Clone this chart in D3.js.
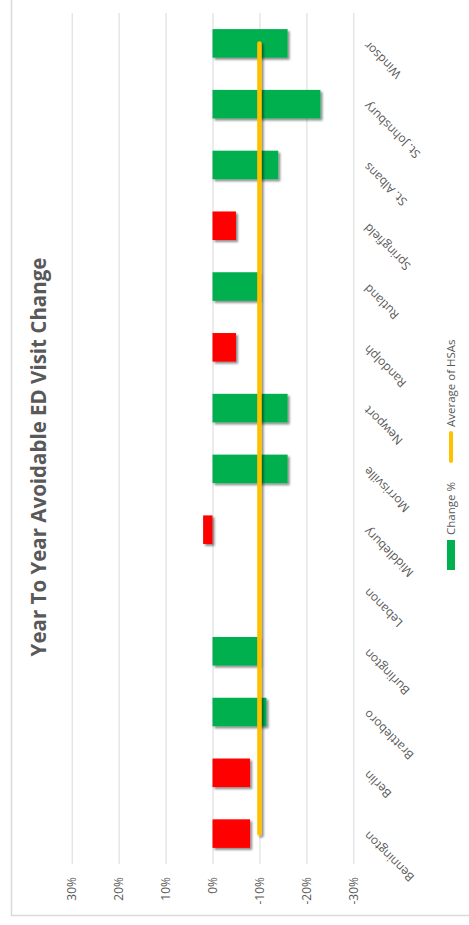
<!DOCTYPE html>
<html>
<head>
<meta charset="utf-8">
<script src="https://cdn.jsdelivr.net/npm/d3@7"></script>
<style>
  html, body { margin: 0; padding: 0; background: #fff; }
  svg { display: block; font-family: "Open Sans", "Noto Sans", sans-serif; }
</style>
</head>
<body>
<svg id="chart" width="469" height="925"></svg>
<script>
// Hospital service areas, alphabetical
const categories = ["Bennington", "Berlin", "Brattleboro", "Burlington", "Lebanon", "Middlebury",
  "Morrisville", "Newport", "Randolph", "Rutland", "Springfield", "St. Albans", "St. Johnsbury", "Windsor"];
// Year-to-year change in avoidable ED visits (null = no value reported)
const changePct = [-0.08, -0.08, -0.115, -0.10, null, 0.02,
  -0.16, -0.16, -0.05, -0.10, -0.05, -0.14, -0.23, -0.16];
// Average across all HSAs
const averagePct = -0.10;
const tickValues = [0.3, 0.2, 0.1, 0, -0.1, -0.2, -0.3];
const seriesNames = ["Change %", "Average of HSAs"];

const GREEN = "#00B050", RED = "#FF0000", GOLD = "#FFC000";
const GRID = "#D9D9D9", TEXT = "#595959";

const svg = d3.select("#chart");
const W = +svg.attr("width"), H = +svg.attr("height");

// soft drop shadow, defined in page coordinates so thin marks keep it too
const defs = svg.append("defs");
defs.append("filter").attr("id", "shadow")
  .attr("filterUnits", "userSpaceOnUse")
  .attr("x", 0).attr("y", 0).attr("width", W).attr("height", H)
  .append("feDropShadow")
  .attr("dx", 2).attr("dy", 2).attr("stdDeviation", 1.3)
  .attr("flood-color", "#000").attr("flood-opacity", 0.45);

// outer chart frame
svg.append("rect")
  .attr("x", 11.5).attr("y", -5).attr("width", 470).attr("height", 920.5)
  .attr("fill", "none").attr("stroke", GRID).attr("stroke-width", 1.5);

// The chart is laid out turned on its side: values run along x, categories along y
const plotTop = 13, plotBottom = 864;
const x = d3.scaleLinear().domain([0.3, -0.3]).range([71.7, 353.3]);
const y = d3.scaleBand()
  .domain(categories.slice().reverse())
  .range([plotTop, plotBottom])
  .paddingInner(0.53)
  .paddingOuter(0.265);

const fmt = v => (Math.round(v * 100)) + "%";

// gridlines + tick labels
const axis = d3.axisBottom(x)
  .tickValues(tickValues)
  .tickFormat(fmt)
  .tickSize(-(plotBottom - plotTop))
  .tickPadding(0);
const gAxis = svg.append("g")
  .attr("transform", `translate(0,${plotBottom})`)
  .call(axis);
gAxis.attr("font-family", null).attr("font-size", null);
gAxis.select(".domain").remove();
gAxis.selectAll(".tick line").attr("stroke", GRID).attr("stroke-width", 1);
gAxis.selectAll(".tick text")
  .attr("fill", TEXT)
  .attr("font-size", 12)
  .attr("text-anchor", "end")
  .attr("transform", "translate(0,13) rotate(-90)")
  .attr("x", 0).attr("y", 0).attr("dy", "0.35em");

// bars
const rows = categories.map((c, i) => ({ c, v: changePct[i] })).filter(d => d.v !== null);
svg.append("g").attr("filter", "url(#shadow)")
  .selectAll("rect").data(rows).join("rect")
  .attr("x", d => Math.min(x(0), x(d.v)))
  .attr("width", d => Math.abs(x(d.v) - x(0)))
  .attr("y", d => y(d.c))
  .attr("height", y.bandwidth())
  .attr("fill", d => d.v <= averagePct ? GREEN : RED);

// average line across the categories
const firstCat = categories[categories.length - 1], lastCat = categories[0];
svg.append("line")
  .attr("x1", x(averagePct)).attr("x2", x(averagePct))
  .attr("y1", y(firstCat) + y.bandwidth() / 2)
  .attr("y2", y(lastCat) + y.bandwidth() / 2)
  .attr("stroke", GOLD).attr("stroke-width", 4.5).attr("stroke-linecap", "round")
  .attr("filter", "url(#shadow)");

// category labels
svg.append("g").selectAll("text").data(categories).join("text")
  .attr("transform", d => `translate(366,${y(d) + y.bandwidth() / 2}) rotate(-135)`)
  .attr("text-anchor", "end")
  .attr("dy", "0.35em")
  .attr("font-size", 12)
  .attr("fill", TEXT)
  .text(d => d);

// title
svg.append("text")
  .attr("transform", "translate(46,457) rotate(-90)")
  .attr("text-anchor", "middle")
  .attr("font-size", 20.5)
  .attr("font-weight", "bold")
  .attr("fill", TEXT)
  .text("Year To Year Avoidable ED Visit Change");

// legend
const lg = svg.append("g").attr("transform", "translate(451,570) rotate(-90)");
lg.append("rect").attr("x", 0).attr("y", -4).attr("width", 30).attr("height", 8).attr("fill", GREEN);
lg.append("text").attr("x", 35).attr("dy", "0.35em").attr("font-size", 11.5).attr("fill", TEXT).text(seriesNames[0]);
lg.append("line").attr("x1", 109).attr("x2", 137).attr("y1", 0).attr("y2", 0)
  .attr("stroke", GOLD).attr("stroke-width", 4).attr("stroke-linecap", "round");
lg.append("text").attr("x", 143).attr("dy", "0.35em").attr("font-size", 11.5).attr("fill", TEXT).text(seriesNames[1]);
</script>
</body>
</html>
